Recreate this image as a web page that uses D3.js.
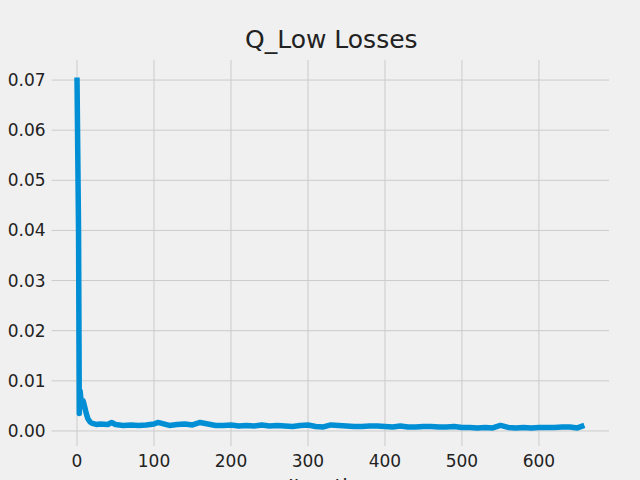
<!DOCTYPE html><html><head><script src="https://cdn.jsdelivr.net/npm/d3@7"></script>
<style>body{margin:0;background:#f0f0f0}</style></head><body><svg width="640" height="480"></svg><script>
const iters=[0,2,3,4,5,6,8,10,12,14,17,20,25,30,40,45,50,60,70,80,90,100,105,110,120,130,140,150,160,170,180,190,200,210,220,230,240,250,260,270,280,290,300,310,320,330,340,350,360,370,380,390,400,410,420,430,440,450,460,470,480,490,500,510,520,530,540,550,560,570,580,590,600,610,620,630,640,650,659];
const losses=[0.0705,0.040,0.0035,0.0080,0.0065,0.0058,0.0060,0.0048,0.0035,0.0025,0.0018,0.0015,0.0013,0.0014,0.0013,0.0017,0.0013,0.0011,0.0012,0.0011,0.0012,0.0014,0.0017,0.0015,0.0011,0.0013,0.0014,0.0012,0.0017,0.0014,0.0011,0.0011,0.0012,0.0010,0.0011,0.0010,0.0012,0.0010,0.0011,0.0010,0.0009,0.0011,0.0012,0.0009,0.0008,0.0012,0.0011,0.0010,0.0009,0.0009,0.0010,0.0010,0.0009,0.0008,0.0010,0.0008,0.0008,0.0009,0.0009,0.0008,0.0008,0.0009,0.0007,0.0007,0.0006,0.0007,0.0006,0.0011,0.0007,0.0006,0.0007,0.0006,0.0007,0.0007,0.0007,0.0008,0.0008,0.0006,0.0011];
const xTicks=[0,100,200,300,400,500,600], yTicks=[0,0.01,0.02,0.03,0.04,0.05,0.06,0.07];
const svg=d3.select("svg");
const L=51.6,R=609,T=60,B=446;
const x=d3.scaleLinear().domain([-33,691]).range([L,R]);
const y=d3.scaleLinear().domain([-0.0030,0.0740]).range([B,T]);
const g=svg.append("g");
g.selectAll(".gx").data(xTicks).join("line").attr("x1",d=>x(d)).attr("x2",d=>x(d)).attr("y1",T).attr("y2",B).attr("stroke","#cbcbcb").attr("stroke-width",1);
g.selectAll(".gy").data(yTicks).join("line").attr("y1",d=>y(d)).attr("y2",d=>y(d)).attr("x1",L).attr("x2",R).attr("stroke","#cbcbcb").attr("stroke-width",1);
const f="DejaVu Sans";
g.selectAll(".tx").data(xTicks).join("text").attr("x",d=>x(d)).attr("y",B+21).attr("text-anchor","middle").attr("font-family",f).attr("font-size",17).attr("fill","#222").text(d=>d);
g.selectAll(".ty").data(yTicks).join("text").attr("x",L-6).attr("y",d=>y(d)+6).attr("text-anchor","end").attr("font-family",f).attr("font-size",17).attr("fill","#222").text(d=>d.toFixed(2));
svg.append("path").datum(iters.map((d,i)=>[d,losses[i]])).attr("d",d3.line().x(d=>x(d[0])).y(d=>y(d[1]))).attr("fill","none").attr("stroke","#008fd5").attr("stroke-width",5.5).attr("stroke-linejoin","round");
svg.append("text").attr("x",(L+R)/2+1).attr("y",48).attr("text-anchor","middle").attr("font-family",f).attr("font-size",25).attr("fill","#222").text("Q_Low Losses");
svg.append("text").attr("x",(L+R)/2).attr("y",493).attr("text-anchor","middle").attr("font-family",f).attr("font-size",20).attr("fill","#222").text("Iteration");
</script></body></html>
